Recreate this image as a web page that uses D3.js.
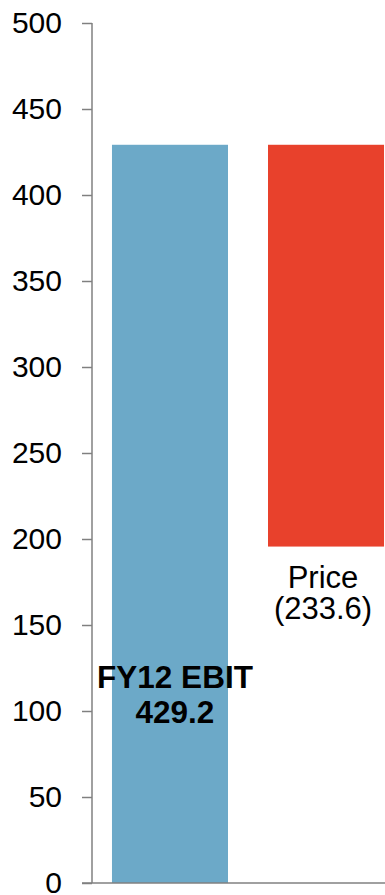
<!DOCTYPE html>
<html>
<head>
<meta charset="utf-8">
<script src="https://cdn.jsdelivr.net/npm/d3@7/dist/d3.min.js"></script>
<style>
  html, body { margin: 0; padding: 0; background: #fff; }
  svg { display: block; }
  text { font-family: "Liberation Sans", Arial, sans-serif; }
</style>
</head>
<body>
<div id="chart"></div>
<script>
// Bridge data: EBIT start, then price deduction
const categories = ["FY12 EBIT", "Price"];
const starts = [0, 429.2];
const ends = [429.2, 195.6];
const changes = [429.2, -233.6];
const barColors = ["#6CA9C8", "#E8412C"];
const yTicks = [0, 50, 100, 150, 200, 250, 300, 350, 400, 450, 500];

const W = 385, H = 895;
const axisX = 92, baseY = 883, topY = 23;

const svg = d3.select("#chart").append("svg")
  .attr("width", W).attr("height", H);

const y = d3.scaleLinear().domain([0, 500]).range([baseY, topY]);
const x = d3.scaleBand().domain(categories)
  .range([axisX, axisX + 312])
  .paddingInner(0.2564)
  .paddingOuter(0.128);

// Bars
svg.selectAll("rect.bar").data(categories).enter().append("rect")
  .attr("class", "bar")
  .attr("x", d => x(d))
  .attr("width", x.bandwidth())
  .attr("y", (d, i) => y(Math.max(starts[i], ends[i])))
  .attr("height", (d, i) => Math.abs(y(starts[i]) - y(ends[i])))
  .attr("fill", (d, i) => barColors[i]);

// Y axis
const yAxis = d3.axisLeft(y).tickValues(yTicks).tickSize(10).tickPadding(20)
  .tickFormat(d3.format("d"));
const gy = svg.append("g").attr("transform", `translate(${axisX},0)`).call(yAxis);
gy.select(".domain").remove();
gy.selectAll(".tick line").attr("stroke", "#808080").attr("stroke-width", 1.5);
gy.selectAll(".tick text").attr("fill", "#000").style("font-size", "30px")
  .style("font-family", "'Liberation Sans', Arial, sans-serif");
svg.append("line").attr("x1", axisX).attr("x2", axisX)
  .attr("y1", y(500)).attr("y2", baseY)
  .attr("stroke", "#808080").attr("stroke-width", 1.5);

// Baseline
svg.append("line").attr("x1", axisX - 10).attr("x2", W)
  .attr("y1", baseY).attr("y2", baseY)
  .attr("stroke", "#808080").attr("stroke-width", 1.5);

// Labels
const fmt = v => v < 0 ? `(${Math.abs(v).toFixed(1)})` : v.toFixed(1);
const cx0 = x(categories[0]) + x.bandwidth() / 2 + 5;
const lab0 = svg.append("text").attr("text-anchor", "middle")
  .style("font-size", "31.5px").style("font-weight", "bold").attr("fill", "#000");
lab0.append("tspan").attr("x", cx0).attr("y", 688).text(categories[0]);
lab0.append("tspan").attr("x", cx0).attr("y", 723).text(fmt(changes[0]));

const cx1 = x(categories[1]) + x.bandwidth() / 2 - 3;
const lab1 = svg.append("text").attr("text-anchor", "middle")
  .style("font-size", "31px").attr("fill", "#000");
lab1.append("tspan").attr("x", cx1).attr("y", y(ends[1]) + 41).text(categories[1]);
lab1.append("tspan").attr("x", cx1).attr("y", y(ends[1]) + 72).text(fmt(changes[1]));
</script>
</body>
</html>
